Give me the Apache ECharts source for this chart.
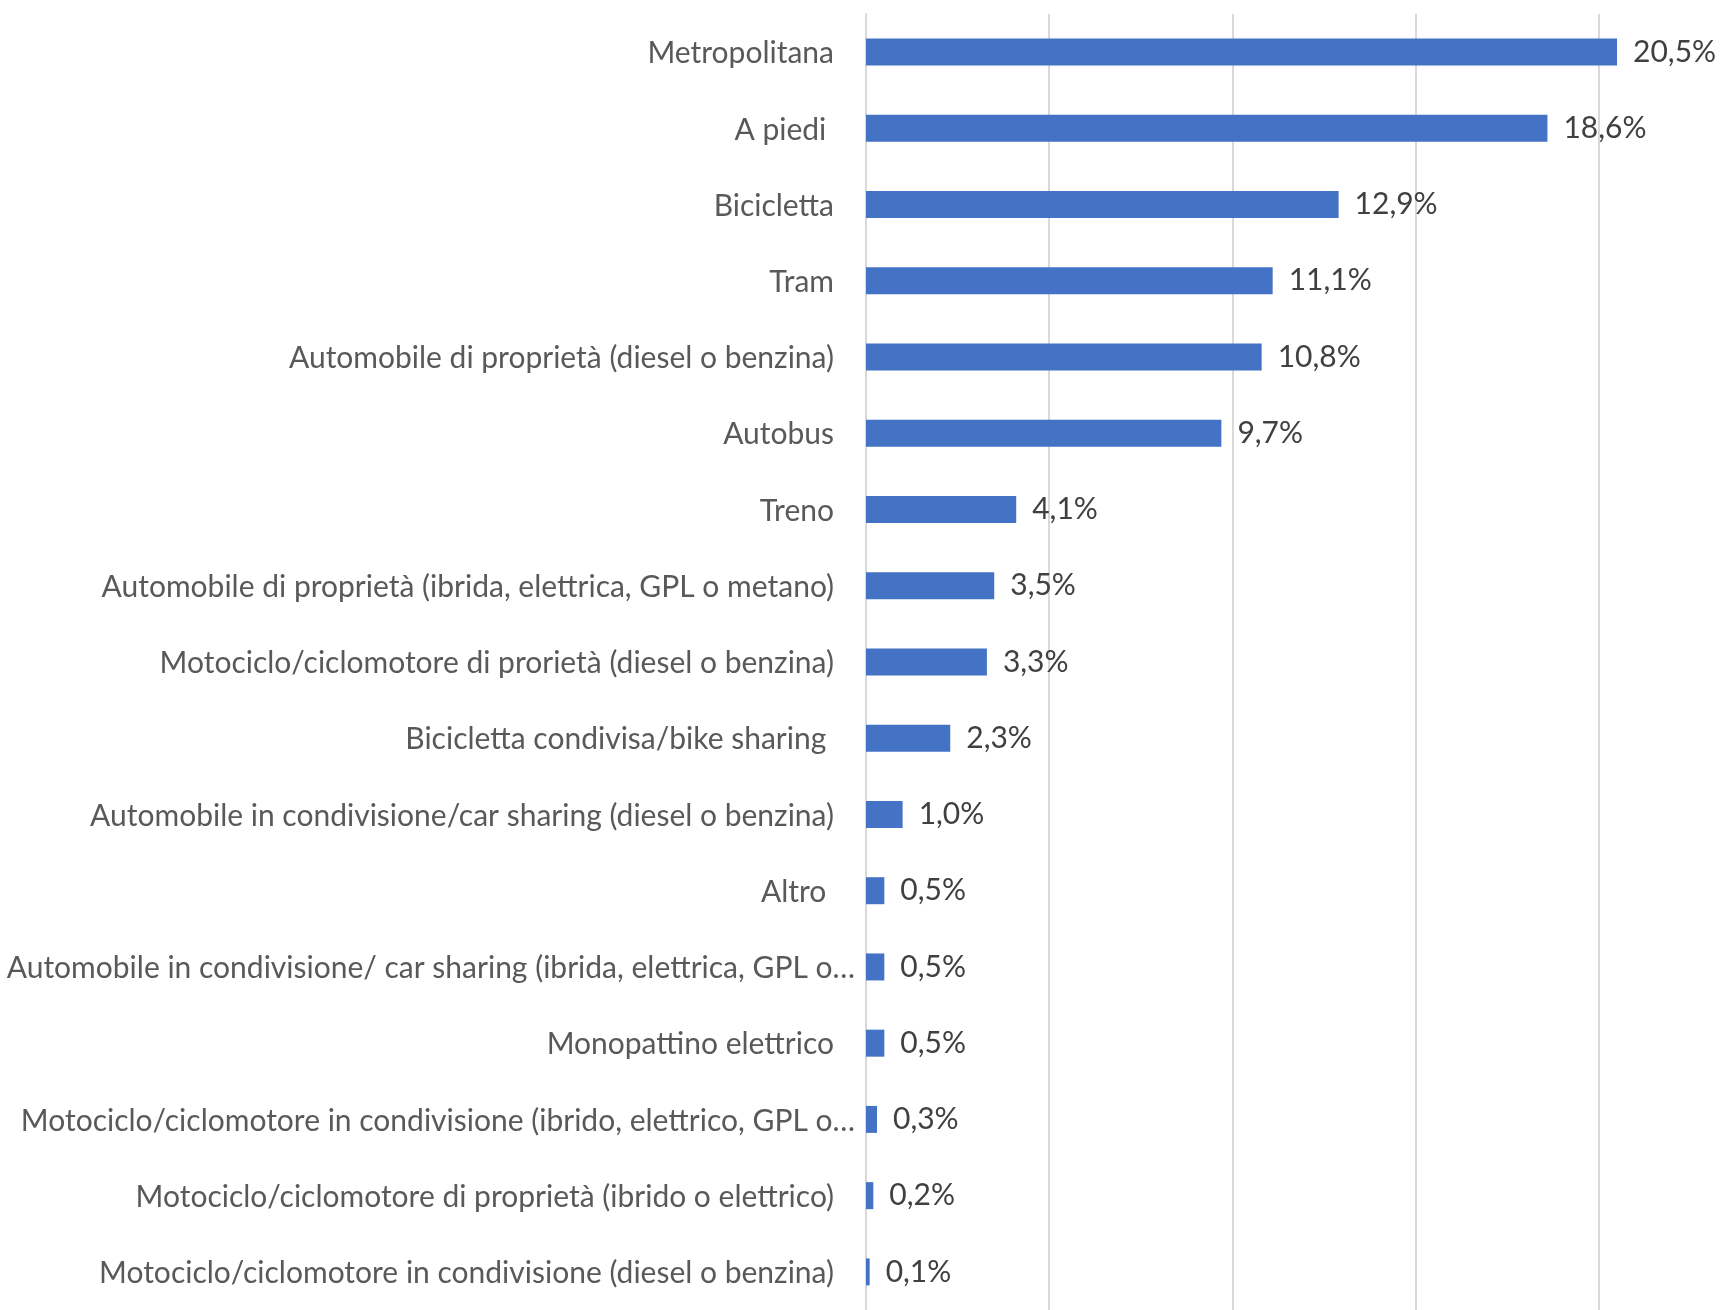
<!DOCTYPE html>
<html>
<head>
<meta charset="utf-8">
<script src="https://cdn.jsdelivr.net/npm/echarts@6/dist/echarts.min.js"></script>
<style>
html,body{margin:0;padding:0;background:#fff;}
#c{width:1720px;height:1310px;}
</style>
</head>
<body>
<div id="c"></div>
<script>
const categories = [
  "Metropolitana",
  "A piedi ",
  "Bicicletta",
  "Tram",
  "Automobile di proprietà (diesel o benzina)",
  "Autobus",
  "Treno",
  "Automobile di proprietà (ibrida, elettrica, GPL o metano)",
  "Motociclo/ciclomotore di prorietà (diesel o benzina)",
  "Bicicletta condivisa/bike sharing ",
  "Automobile in condivisione/car sharing (diesel o benzina)",
  "Altro ",
  "Automobile in condivisione/ car sharing (ibrida, elettrica, GPL o…",
  "Monopattino elettrico",
  "Motociclo/ciclomotore in condivisione (ibrido, elettrico, GPL o…",
  "Motociclo/ciclomotore di proprietà (ibrido o elettrico)",
  "Motociclo/ciclomotore in condivisione (diesel o benzina)"
];
const values = [20.5, 18.6, 12.9, 11.1, 10.8, 9.7, 4.1, 3.5, 3.3, 2.3, 1.0, 0.5, 0.5, 0.5, 0.3, 0.2, 0.1];
const xMin = 0;
const xMax = 23.31;
const xInterval = 5;

const FONT = 'Lato';
const FS = 30;
const chart = echarts.init(document.getElementById('c'), null, {renderer: 'canvas'});
chart.setOption({
  animation: false,
  backgroundColor: '#ffffff',
  grid: {left: 866, top: 14, right: 0, height: 1302, containLabel: false},
  xAxis: {
    type: 'value',
    min: xMin,
    max: xMax,
    interval: xInterval,
    axisLabel: {show: false},
    axisLine: {show: false},
    axisTick: {show: false},
    splitLine: {show: true, showMaxLine: false, lineStyle: {color: '#d9d9d9', width: 2}}
  },
  yAxis: {
    type: 'category',
    inverse: true,
    data: categories,
    axisLine: {show: true, lineStyle: {color: '#d9d9d9', width: 2}},
    axisTick: {show: false},
    axisLabel: {
      margin: 11,
      color: '#595959',
      fontFamily: FONT,
      fontSize: FS,
      formatter: function (v) {
        if (v.endsWith('…')) return '{t|' + v + '}';
        return '{n|' + v + '}{s|}';
      },
      rich: {
        t: {color: '#595959', fontFamily: FONT, fontSize: FS, padding: [3, 0, 0, 0]},
        n: {color: '#595959', fontFamily: FONT, fontSize: FS, padding: [3, 0, 0, 0]},
        s: {width: 21}
      }
    }
  },
  series: [{
    type: 'bar',
    data: values,
    barWidth: 27,
    itemStyle: {color: '#4472c4'},
    label: {
      show: true,
      position: 'right',
      distance: 16,
      color: '#404040',
      fontFamily: FONT,
      fontSize: FS,
      padding: [4, 0, 0, 0],
      formatter: function (p) { return p.value.toFixed(1).replace('.', ',') + '%'; }
    }
  }]
});
</script>
</body>
</html>
